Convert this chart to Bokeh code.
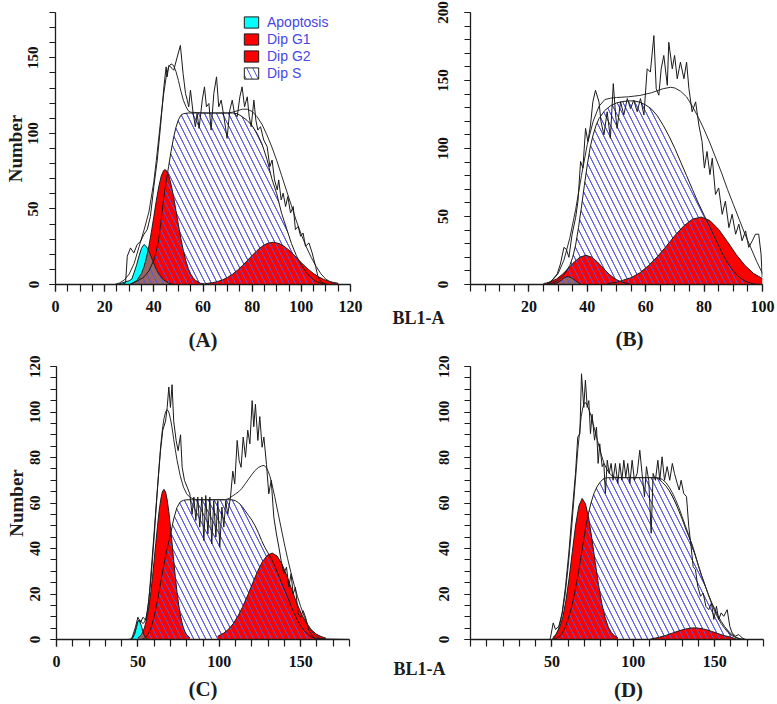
import math
from bokeh.plotting import figure
from bokeh.layouts import column, row
from bokeh.models import Range1d, FixedTicker, Label, Legend, LegendItem
from bokeh.embed import file_html
from bokeh.resources import INLINE

# ---------------- ticks / texts ----------------
A_XTICKS = [0, 20, 40, 60, 80, 100, 120]
A_YTICKS = [0, 50, 100, 150]
B_XTICKS = [20, 40, 60, 80, 100]
B_YTICKS = [0, 50, 100, 150, 200]
C_XTICKS = [0, 50, 100, 150]
C_YTICKS = [0, 20, 40, 60, 80, 100, 120]
D_XTICKS = [50, 100, 150]
D_YTICKS = [0, 20, 40, 60, 80, 100, 120]
LEGEND_LABELS = ["Apoptosis", "Dip G1", "Dip G2", "Dip S"]
PANEL_LABELS = ["(A)", "(B)", "(C)", "(D)"]
Y_TITLE = "Number"
X_TITLE = "BL1-A"

# ---------------- panel A ----------------
A_APO_X = [25, 27, 29, 30, 31, 32, 33, 34, 35, 36, 37, 38, 39, 40, 41, 42, 43, 44, 46, 48]
A_APO_Y = [0, 1, 2, 2.5, 3.5, 8, 13, 19, 24, 26.5, 25, 22, 18, 14, 10, 7, 5, 3, 1, 0]
A_G1_X = [31, 33, 35, 36, 37, 38, 39, 40, 41, 42, 43, 44, 44.5, 45, 46, 47, 48, 49, 50, 51, 52, 53, 54, 55, 56, 57, 59, 61]
A_G1_Y = [0.7, 2.5, 7.4, 11.7, 17.8, 25.5, 34.7, 45, 55.4, 64.7, 71.7, 75.5, 76, 75.6, 72.4, 66.3, 58.3, 49, 39.5, 30.4, 22.4, 15.9, 10.7, 7, 4.4, 2.6, 0.8, 0.2]
A_G2_X = [61, 64, 66, 68, 70, 72, 74, 76, 78, 80, 82, 84, 86, 88.5, 91, 93, 95, 97, 99, 101, 103, 105, 107, 109, 111, 113, 115]
A_G2_Y = [0.6, 1.2, 2, 3.1, 4.7, 6.8, 9.4, 12.4, 15.8, 19.2, 22.5, 25.2, 27.1, 28, 27.1, 25.3, 22.7, 19.5, 16.1, 12.8, 9.8, 7.2, 5.1, 3.4, 2.2, 1.4, 0.8]
A_S_X = [30, 33, 36, 38, 40, 41, 42, 43, 44, 45, 46, 47, 48, 49, 50, 51, 52, 54, 72, 74, 76, 78, 80, 82, 84, 86, 88, 90, 92, 94, 96, 98, 100, 102, 104, 106, 108, 110]
A_S_Y = [0, 2, 5, 9, 16, 22, 30, 43, 57, 68, 78, 88, 97, 104, 109, 112, 113, 113.5, 113.5, 113, 111, 108.5, 105, 100, 93, 83, 70, 60, 47, 37, 27, 19, 13, 8, 4.5, 2, 0.8, 0]
A_FIT_X = [24, 26, 28, 30, 32, 34, 36, 38, 40, 41, 42, 43, 44, 45, 46, 47, 48, 49, 50, 51, 52, 53, 54, 55, 60, 65, 70, 72, 74, 76, 78, 80, 82, 84, 86, 88, 90, 92, 94, 96, 98, 100, 102, 104, 106, 108, 110, 112, 114]
A_FIT_Y = [0, 1, 3, 7, 14, 25, 36, 48, 68, 82, 97, 112, 126, 137, 144, 146, 145, 141, 135, 128, 122, 118, 115, 114, 113.5, 113.5, 113.5, 114, 115, 116, 116, 114.5, 111, 106, 99, 91, 82, 72, 62, 52, 42, 33, 25, 18, 12, 7, 3.5, 1.5, 0]
A_RAW_X = [0, 27, 28.5, 29.2, 30.5, 31.9, 33.2, 34.6, 35.9, 37.3, 38.6, 40, 41.4, 42.7, 44.1, 45, 45.4, 46.1, 47.5, 48.1,
           49.5, 50.8, 51.9, 52.9, 53.6, 54.2, 54.9, 56, 56.9, 57.6, 58.4, 59.7, 60.6, 61.4, 62.4, 63.3, 64.4, 65.5, 66.4, 67.4,
           68.5, 69.8, 70.9, 71.9, 72.8, 73.9, 75, 75.9, 76.9, 78, 78.8, 79.6, 80.7, 81.5, 82.3, 83.4, 84.7, 86.1, 87.2, 88.1,
           89.1, 90.2, 90.8, 91.8, 92.6, 93.6, 94.5, 95.6, 96.7, 97.6, 98.7, 99.7, 100.7, 101.7, 103.1, 104.4, 105.8, 106.7, 107.8, 109.2,
           111, 120]
A_RAW_Y = [0, 0, 1, 18.7, 24.2, 20.9, 26.4, 28.6, 33, 36.3, 45, 64.8, 82.4, 104.4, 130.8, 144, 137.4, 145, 142.9, 141.8,
           150.5, 158.2, 139.6, 126.4, 122, 117.6, 128.6, 113.2, 104.4, 113.2, 103.3, 122, 130.8, 117.6, 119.8, 102.2, 126.4, 137.4, 117.6, 122,
           111, 96.7, 115.4, 122, 113.2, 111, 124.2, 130.8, 117.6, 124.2, 111, 104.4, 122, 108.8, 102.2, 104.4, 95.6, 91.2, 78, 82.4,
           69.2, 62.6, 69.2, 56, 60.4, 51.6, 58.2, 47.3, 51.6, 36.3, 38.5, 31.9, 34.1, 25.3, 27.5, 20.9, 12.1, 5.5, 2.2, 0.7,
           0, 0]

# ---------------- panel B ----------------
B_APO_X = [28, 30, 31, 32, 33, 34, 35, 36, 37, 38]
B_APO_Y = [0, 1.5, 3, 4.8, 5.8, 5.5, 4.3, 2.8, 1.2, 0]
B_G1_X = [25, 26, 27.5, 29.5, 31.5, 33.5, 35.5, 37.5, 39.5, 41.5, 43.5, 45.5, 47.5, 49.5, 51.5, 53, 54.5]
B_G1_Y = [0.7, 1.1, 2.0, 4.1, 7.5, 11.9, 16.5, 20.1, 21.5, 20.1, 16.5, 11.9, 7.5, 4.1, 2.0, 1.1, 0.5]
B_G2_X = [47, 50, 52, 55, 58, 61, 64, 67, 70, 73, 76, 79, 82, 85, 88, 91, 94, 97, 100]
B_G2_Y = [0.8, 1.5, 3, 5, 8.6, 14, 20.5, 28, 36, 43, 48, 49.6, 47, 40.5, 31.5, 22, 14, 8, 4.4]
B_S_X = [26, 28, 30, 32, 34, 35, 36, 37, 38, 39, 40, 41, 42, 43, 44, 46, 48, 50, 52, 54, 56, 58, 60, 62, 64, 66, 68, 70, 72, 74, 76, 78, 80, 82, 84, 86, 88, 90, 92, 94, 96, 98]
B_S_Y = [0, 1, 3, 7, 14, 20, 29, 42, 57, 73, 88, 101, 110, 117, 122, 128, 131.5, 133.5, 134.5, 135, 135, 134, 132, 129, 124, 117, 109, 100, 90, 80, 70, 60, 51, 42, 33, 24, 16, 10, 5.5, 2.5, 1, 0]
B_FIT_X = [26, 28, 30, 32, 34, 36, 38, 40, 42, 44, 46, 48, 50, 54, 58, 62, 66, 68.5, 70, 72, 74, 76, 78, 80, 82, 84, 86, 88, 90, 92, 94, 96, 98, 100]
B_FIT_Y = [0.5, 3, 8, 18, 34, 55, 80, 103, 120, 131, 136, 137, 137.5, 138, 139, 141, 144, 145, 144.5, 142, 138, 131, 123, 114, 104, 93, 82, 70, 59, 48, 37, 27, 17, 8]
B_RAW_X = [0, 26, 27.4, 29.7, 30.8, 32, 32.8, 33.7, 34.8, 36, 36.8, 37.7, 38.5, 39.4, 40.2, 41.1, 41.9, 42.8, 44, 44.7,
           45.7, 46.8, 47.9, 48.9, 49.7, 50.2, 51.4, 52.5, 53.7, 54.8, 55.9, 57.1, 58.2, 59.4, 60.5, 61.6, 62.8, 63.6, 64.5, 65.3,
           66.2, 67.4, 67.9, 69.1, 69.9, 70.8, 71.9, 73.1, 74, 74.8, 75.9, 77.1, 78.2, 79.3, 80.1, 81, 82, 82.8, 83.9, 85,
           86.2, 87.3, 88.5, 89.6, 90.8, 91.9, 93, 94.2, 95.3, 96.5, 97.6, 98.7, 99.5, 99.9]
B_RAW_Y = [0, 0, 1.7, 7.8, 15.1, 27.3, 26, 20, 37, 49.1, 61.3, 90.5, 85.6, 114.8, 105.1, 117.3, 134.3, 142.8, 134.3, 119.7,
           110, 127, 107.5, 147.7, 124.6, 114.8, 134.3, 124.6, 136.7, 129.4, 135.5, 127, 136.7, 124.6, 158.6, 156.2, 183, 144, 139.2, 158.6,
           168.4, 146.5, 178.1, 158.6, 168.4, 151.3, 163.5, 151.3, 163.5, 144, 127, 134.3, 117.3, 105.1, 85.6, 97.8, 80.8, 92.9, 66.2, 71,
           51.6, 61.3, 41.8, 51.6, 37, 44.3, 32.1, 39.4, 27.3, 32.1, 37, 37, 22.4, 5.4]

# ---------------- panel C ----------------
C_APO_X = [46, 47, 48, 49, 50, 50.5, 51, 52, 53, 54, 55, 56]
C_APO_Y = [0.3, 0.8, 2.5, 5.2, 7.9, 8.5, 8.1, 6.3, 3.7, 1.6, 0.5, 0.1]
C_G1_X = [50, 51, 52, 53, 54, 55, 56, 57, 58, 59, 60, 61, 62, 63, 64, 65, 66, 67, 68, 69, 70, 71, 72, 73, 74, 75, 76, 77, 78, 79, 80, 82]
C_G1_Y = [0.7, 1.2, 2, 3.3, 5.1, 7.7, 11.2, 15.6, 21.1, 27.6, 34.8, 42.3, 49.6, 56.2, 61.4, 64.8, 66, 64.8, 61.4, 56.2, 49.6, 42.3, 34.8, 27.6, 21.1, 15.6, 11.2, 7.7, 5.1, 3.3, 2, 0.7]
C_G2_X = [99, 102.5, 105.5, 108.5, 111.5, 114.5, 117.5, 120.5, 123.5, 126.5, 129.5, 132.5, 135.5, 138.5, 141.5, 144.5, 147.5, 150.5, 153.5, 156.5, 159.5, 162.5, 165.5]
C_G2_Y = [1.4, 2.7, 4.4, 6.9, 10.3, 14.6, 19.5, 24.8, 29.9, 34.2, 37, 38, 36.7, 33.2, 28, 22, 16.2, 11.2, 7.2, 4.3, 2.4, 1.3, 0.6]
C_S_X = [52, 54, 56, 58, 60, 62, 64, 66, 68, 70, 72, 74, 76, 78, 80, 108, 110, 112, 114, 116, 118, 120, 122, 124, 126, 128, 130, 132, 134, 136, 138, 140, 142, 144, 146, 148, 150, 152, 154, 156, 158, 160, 162]
C_S_Y = [0, 0.5, 2, 5, 10, 17, 25, 33, 40, 46, 53, 58, 60.5, 61.2, 61.4, 61.4, 61, 60, 58.5, 56.5, 54.5, 52.5, 50, 47, 43.5, 40.5, 38, 35.5, 32.5, 29, 25.5, 22, 18.5, 15, 11.5, 8.5, 6, 4, 2.5, 1.5, 0.7, 0.2, 0]
C_FIT_X = [44, 46, 48, 50, 51, 52, 53, 54, 55, 56, 58, 60, 62, 63, 64, 65, 66, 67, 68, 69, 70, 71, 72, 73, 74, 76, 78, 80, 82, 84, 86, 88,
           104, 106, 108, 110, 112, 114, 116, 118, 120, 122, 124, 126, 127.5, 129, 130, 131, 132, 134, 136, 138, 140, 142, 144, 146, 148, 150, 152, 154, 156, 158, 160, 162, 164]
C_FIT_Y = [0, 0.3, 2.5, 8, 8.5, 8, 7, 7.5, 9.5, 13, 26, 45, 66, 76, 85, 92, 97, 100, 101, 100, 97, 93, 88, 83.5, 79, 72, 67, 64, 62.5, 61.8, 61.5, 61.5,
           61.5, 62, 63, 64, 65, 66.5, 68.5, 70.5, 72.5, 74.3, 75.6, 76.3, 76.5, 75.5, 74, 72, 69.5, 63, 56, 49, 42, 35.5, 29.5, 24, 19, 14.5, 10.5, 7, 4.5, 2.5, 1.2, 0.5, 0]
C_RAW_X = [0, 46, 46.5, 48.5, 50, 51.6, 53.2, 54.9, 56.7, 58.8, 60.8, 62.2, 63.9, 65.3, 67, 68, 69, 70, 71, 72,
           73.5, 74.7, 76.2, 77.2, 78.6, 80.3, 81.9, 83.3, 84.4, 85.6, 86.8, 88, 89.3, 90.5, 91.7, 93, 94.2, 95.4, 96.6, 97.9,
           99.1, 100.3, 101.6, 102.8, 104, 105.2, 106.9, 108.3, 109.5, 111, 112.2, 113.4, 114.7, 116.1, 117.5, 118.8, 120.2, 121.2, 122.2, 123.7,
           124.9, 126.3, 127.4, 129, 130.4, 131.9, 133.5, 135.1, 136.6, 138, 139.6, 141.3, 142.7, 144.1, 145.4, 146.8, 148.4, 150, 151.5, 153,
           155, 157, 159, 180]
C_RAW_Y = [0, 0, 1, 5.4, 9.8, 7.6, 9.8, 8.4, 17, 36, 55, 68, 83, 92, 96, 102, 111, 102, 112, 96,
           87.5, 83, 90, 75.7, 70, 67, 64, 55, 62.6, 52.3, 62.6, 49.4, 62.6, 43.5, 63.3, 46.4, 62.6, 42, 61, 45,
           61, 40.6, 58.2, 49.4, 61, 55, 62.6, 74, 68.4, 87.5, 78.7, 75.7, 89, 80.1, 92, 86, 105, 93.5, 103.4, 87.5,
           98, 84.5, 89, 77, 64, 70, 53.8, 46.4, 40.6, 34.7, 28.9, 31.8, 23, 28.9, 20, 23, 11.3, 9.8, 12.7, 9.8,
           4, 1.8, 0.3, 0]

# ---------------- panel D ----------------
D_G1_X = [50.6, 52.6, 54.6, 56.6, 58.6, 60.6, 62.6, 64.6, 66.6, 68.6, 70.6, 72.6, 74.6, 76.6, 78.6, 80.6, 82.6, 84.6, 86.6, 88.6, 90.6]
D_G1_Y = [0.9, 2.2, 4.9, 9.5, 16.9, 27, 38.8, 50.3, 58.8, 62, 59.7, 53.4, 44.2, 34, 24.3, 16, 9.9, 5.6, 3, 1.5, 0.7]
D_G2_X = [110, 112, 116, 120, 124, 128, 132, 136, 138, 140, 144, 148, 152, 156, 160, 162, 164]
D_G2_Y = [0, 0.4, 1, 1.8, 2.8, 3.8, 4.6, 5.1, 5.1, 5, 4.5, 3.6, 2.6, 1.7, 1, 0.5, 0]
D_S_X = [50, 52, 54, 56, 58, 60, 62, 64, 66, 68, 70, 72, 74, 76, 78, 80, 82, 84, 114, 116, 118, 120, 122, 124, 126, 128, 130, 132, 134, 136, 138, 140, 142, 144, 146, 148, 150, 152, 154, 156, 158, 160, 162, 164, 166, 168]
D_S_Y = [0, 0.3, 1, 2.5, 5, 9, 14, 20.5, 28, 37, 46, 54, 60, 64.5, 67.5, 69.5, 70.8, 71.1, 71.1, 70.5, 69, 67.5, 65.5, 63, 60, 56.5, 53, 49, 45.5, 42, 37.5, 32.5, 28, 24, 20, 16.5, 13.5, 10.5, 8, 5.8, 4, 2.6, 1.5, 0.7, 0.2, 0]
D_FIT_X = [50, 52, 54, 56, 58, 60, 62, 64, 66, 68, 69, 70, 71, 72, 74, 76, 78, 80, 82, 84, 86, 88, 90,
           114, 116, 118, 120, 122, 124, 126, 128, 130, 132, 134, 136, 138, 140, 142, 144, 146, 148, 150, 152, 154, 156, 158, 160, 162, 164, 166, 168]
D_FIT_Y = [0, 1.5, 4.5, 10, 19, 32, 48, 66, 84, 98, 102, 104, 104, 102.5, 98.5, 93, 87.5, 82, 77.5, 74.5, 72.5, 71.5, 71.2,
           71.2, 71, 70.3, 69, 67, 64.5, 61.5, 58, 54, 50, 46, 41.5, 37, 32.5, 28, 24, 20, 16, 12.5, 9.5, 7, 5, 3.2, 2, 1.2, 0.6, 0.2, 0]
D_RAW_X = [0, 48.5, 49.1, 50.8, 52.2, 54.3, 56.3, 58.4, 60.4, 62.4, 64.5, 65.9, 67.2, 68.2, 69.6, 70.6, 71.7, 72.7, 73.7, 74.7,
           76.2, 77.4, 78.4, 79.4, 80.9, 81.9, 82.9, 84, 85.2, 86.4, 87.6, 89, 90.5, 91.7, 93, 94.2, 95.4, 96.6, 97.9, 99.3,
           100.7, 102.4, 104, 105.4, 106.9, 108.1, 109.5, 111, 112.2, 113.6, 115.1, 116.3, 117.7, 119.2, 120.8, 122.4, 124, 125.3, 127, 128.2,
           129.4, 131, 132.7, 134.1, 135.5, 136.8, 138.2, 139.6, 141.3, 142.9, 144.6, 146.4, 148, 149.5, 151.1, 152.5, 154, 155.6, 157.7, 159.3,
           160.7, 162.8, 164.8, 166.9, 169, 180]
D_RAW_Y = [0, 0, 0.7, 7.3, 4.4, 5.8, 11.7, 23.4, 38, 55.5, 73, 89, 90.5, 116.8, 102, 114, 102, 105, 90.5, 99,
           87.6, 93.4, 77.4, 86, 76, 77.4, 64.2, 78.8, 73, 77.4, 70, 77.4, 68.6, 77.4, 70, 78.8, 71.5, 77.4, 68.6, 78.8,
           70, 73, 83.2, 73, 62.8, 76, 70, 46.7, 73, 70, 78.8, 70, 80.3, 70, 76, 70, 77.4, 73, 68.6, 65.7,
           70, 64.2, 62.8, 49.6, 40.9, 32, 30.7, 23.4, 19, 20.4, 14.6, 13.1, 16, 8.8, 14.6, 8.8, 11.7, 10.2, 13.1, 5.8,
           2.9, 1.5, 2.2, 0.7, 0, 0]

# ---------------- styling ----------------
SERIF = "Liberation Serif"
SANS = "Liberation Sans"
INK = "#1c1c1c"
RED = "#ff0000"
CYAN = "#00ffff"
HATCH = "#5656de"
LEGEND_BLUE = "#4646e6"
HATCH_KW = dict(hatch_pattern="\\", hatch_color=HATCH, hatch_scale=12, hatch_weight=1)
NAN = float("nan")


def make_panel(w, h, borders, xmax, ymax, xt, xminor, yt, yminor, ystandoff):
    p = figure(width=w, height=h, x_range=Range1d(0, xmax), y_range=Range1d(0, ymax),
               output_backend="svg", toolbar_location=None, tools="")
    p.min_border_left, p.min_border_right, p.min_border_top, p.min_border_bottom = borders
    p.grid.visible = False
    p.outline_line_color = None
    p.background_fill_color = "white"
    p.border_fill_color = "white"
    p.xaxis.ticker = FixedTicker(ticks=xt, minor_ticks=xminor)
    p.yaxis.ticker = FixedTicker(ticks=yt, minor_ticks=yminor)
    for ax in (p.xaxis[0], p.yaxis[0]):
        ax.axis_line_color = INK
        ax.axis_line_width = 1.3
        ax.major_tick_line_color = INK
        ax.minor_tick_line_color = INK
        ax.major_tick_line_width = 1.2
        ax.minor_tick_line_width = 1.2
        ax.major_tick_in = 0
        ax.minor_tick_in = 0
        ax.major_label_text_font = SERIF
        ax.major_label_text_font_style = "bold"
        ax.major_label_text_color = "#111111"
        ax.axis_label_text_font = SERIF
        ax.axis_label_text_font_style = "bold"
        ax.axis_label_text_color = INK
    xa, ya = p.xaxis[0], p.yaxis[0]
    xa.major_tick_out = 7
    xa.minor_tick_out = 7
    xa.major_label_text_font_size = "16px"
    xa.major_label_standoff = 9
    ya.major_tick_out = 6
    ya.minor_tick_out = 6
    ya.major_label_text_font_size = "15px"
    ya.major_label_orientation = "vertical"
    ya.major_label_standoff = ystandoff
    return p


def draw(p, apo, g1, g2, s, fit, raw):
    p.varea(x=s[0], y1=0, y2=s[1], fill_color="white", **HATCH_KW)
    if apo is not None:
        p.varea(x=apo[0], y1=0, y2=apo[1], fill_color=CYAN)
    p.varea(x=g1[0], y1=0, y2=g1[1], fill_color=RED)
    p.varea(x=g2[0], y1=0, y2=g2[1], fill_color=RED)
    if apo is not None:
        p.varea(x=apo[0], y1=0, y2=apo[1], fill_color=CYAN, fill_alpha=0.4)
    p.varea(x=s[0], y1=0, y2=s[1], fill_alpha=0, **HATCH_KW)
    for comp in (s, apo, g1, g2):
        if comp is not None:
            p.line(comp[0], comp[1], line_color=INK, line_width=1)
    p.line(fit[0], fit[1], line_color="#2a2a2a", line_width=1)
    p.line(raw[0], raw[1], line_color="#1a1a1a", line_width=1)


def side_text(p, side, s, x, y, size, align="center"):
    p.add_layout(Label(x=x, y=y, x_units="screen", y_units="screen", text=s,
                       text_font=SERIF, text_font_size=size, text_font_style="bold",
                       text_align=align, text_baseline="middle", text_color=INK), side)


# ---------- A ----------
pA = make_panel(376, 355, (55, 26, 12, 70), 120, 180, A_XTICKS, list(range(0, 121, 5)),
                A_YTICKS, list(range(0, 181, 10)), 11)
draw(pA, (A_APO_X, A_APO_Y), (A_G1_X, A_G1_Y), (A_G2_X, A_G2_Y), (A_S_X, A_S_Y),
     (A_FIT_X, A_FIT_Y), (A_RAW_X, A_RAW_Y))
pA.yaxis.axis_label = Y_TITLE
pA.yaxis.axis_label_text_font_size = "19px"
pA.yaxis.axis_label_standoff = 0
pA.xaxis.axis_label = PANEL_LABELS[0]
pA.xaxis.axis_label_text_font_size = "21px"
pA.xaxis.axis_label_standoff = 13
quad_kw = dict(left=[NAN], right=[NAN], top=[NAN], bottom=[NAN], line_color=INK, line_width=1)
r_apo = pA.quad(fill_color=CYAN, **quad_kw)
r_g1 = pA.quad(fill_color=RED, **quad_kw)
r_g2 = pA.quad(fill_color=RED, **quad_kw)
r_s = pA.quad(fill_color="white", **quad_kw, **HATCH_KW)
legend = Legend(items=[LegendItem(label=LEGEND_LABELS[i], renderers=[r])
                       for i, r in enumerate([r_apo, r_g1, r_g2, r_s])],
                location=(187, 203), orientation="vertical",
                glyph_width=18, glyph_height=14, label_height=14, label_standoff=7,
                spacing=1, padding=1, margin=0,
                label_text_font=SANS, label_text_font_size="14px", label_text_color=LEGEND_BLUE,
                border_line_color=None, background_fill_alpha=0)
pA.add_layout(legend)

# ---------- B ----------
pB = make_panel(399, 355, (94, 13, 11, 71), 100, 200, B_XTICKS, list(range(0, 101, 5)),
                B_YTICKS, list(range(0, 201, 10)), 17)
draw(pB, (B_APO_X, B_APO_Y), (B_G1_X, B_G1_Y), (B_G2_X, B_G2_Y), (B_S_X, B_S_Y),
     (B_FIT_X, B_FIT_Y), (B_RAW_X, B_RAW_Y))
side_text(pB, "left", X_TITLE, 10, -33, "18px", align="left")
side_text(pB, "below", PANEL_LABELS[1], 159, 0, "21px")

# ---------- C ----------
pC = make_panel(376, 348, (56, 27, 11, 64), 180, 120, C_XTICKS, list(range(0, 181, 10)),
                C_YTICKS, list(range(0, 121, 5)), 11)
draw(pC, (C_APO_X, C_APO_Y), (C_G1_X, C_G1_Y), (C_G2_X, C_G2_Y), (C_S_X, C_S_Y),
     (C_FIT_X, C_FIT_Y), (C_RAW_X, C_RAW_Y))
pC.yaxis.axis_label = Y_TITLE
pC.yaxis.axis_label_text_font_size = "19px"
pC.yaxis.axis_label_standoff = 0
pC.xaxis.axis_label = PANEL_LABELS[2]
pC.xaxis.axis_label_text_font_size = "21px"
pC.xaxis.axis_label_standoff = 7

# ---------- D ----------
pD = make_panel(399, 348, (94, 12, 11, 63), 180, 120, D_XTICKS, list(range(0, 181, 10)),
                D_YTICKS, list(range(0, 121, 5)), 16)
draw(pD, None, (D_G1_X, D_G1_Y), (D_G2_X, D_G2_Y), (D_S_X, D_S_Y),
     (D_FIT_X, D_FIT_Y), (D_RAW_X, D_RAW_Y))
side_text(pD, "left", X_TITLE, 10, -29, "18px", align="left")
side_text(pD, "below", PANEL_LABELS[3], 158, 4, "21px")

layout = column(row(pA, pB), row(pC, pD))
open("out.html", "w").write(file_html(layout, INLINE))
